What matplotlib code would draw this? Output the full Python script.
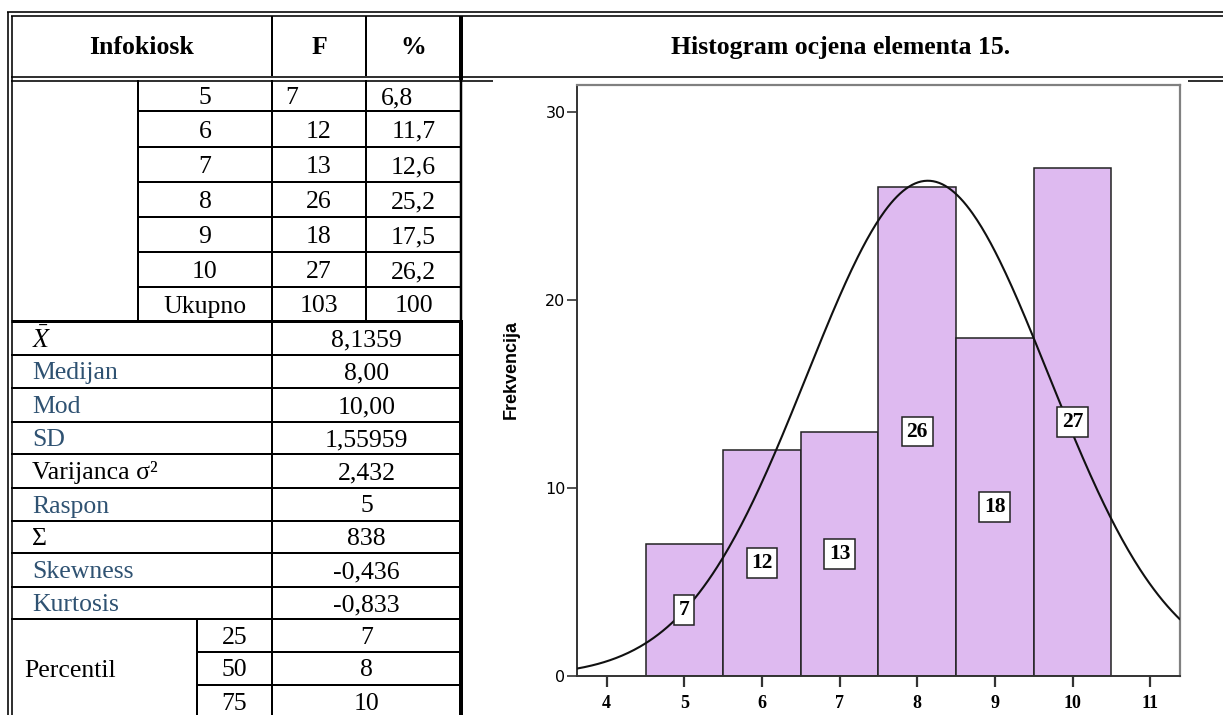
import numpy as np
import matplotlib
matplotlib.use("Agg")
import matplotlib.pyplot as plt

# ---------------- data ----------------
categories = [5, 6, 7, 8, 9, 10]
freqs = [7, 12, 13, 26, 18, 27]
percents = ["6,8", "11,7", "12,6", "25,2", "17,5", "26,2"]
total_label = "Ukupno"
total_f = "103"
total_pct = "100"
stat_labels = [r"$\bar{X}$", "Medijan", "Mod", "SD", "Varijanca σ²", "Raspon", "Σ", "Skewness", "Kurtosis"]
stat_values = ["8,1359", "8,00", "10,00", "1,55959", "2,432", "5", "838", "-0,436", "-0,833"]
stat_colored = [False, True, True, True, False, True, False, True, True]
pct_keys = ["25", "50", "75"]
pct_vals = ["7", "8", "10"]
x_ticks = [4, 5, 6, 7, 8, 9, 10, 11]
y_ticks = [0, 10, 20, 30]
mean_val = 8.1359
sd_val = 1.55959
header_cols = ["Infokiosk", "F", "%"]
chart_title = "Histogram ocjena elementa 15."
y_label = "Frekvencija"

plt.rcParams["mathtext.fontset"] = "stix"
SERIF = ["Liberation Serif", "DejaVu Serif"]
W, H = 1223, 715
fig = plt.figure(figsize=(W / 100, H / 100), dpi=100)
tab = fig.add_axes([0, 0, 1, 1])
tab.set_xlim(0, W)
tab.set_ylim(H, 0)
tab.axis("off")

def px(w):
    return w * 0.72

def hline(y, x0, x1, w=2.0):
    tab.plot([x0, x1], [y, y], color="black", lw=px(w), solid_capstyle="butt")

def vline(x, y0, y1, w=2.0):
    tab.plot([x, x], [y0, y1], color="black", lw=px(w), solid_capstyle="butt")

# outer double borders
vline(7.5, 11.5, H, 1.6)
vline(11.5, 16, H, 1.6)
hline(11.5, 7, W, 1.6)
hline(16, 11, W, 1.6)
# header bottom double line
hline(76.5, 11, W, 1.6)
hline(80.5, 11, 493, 1.6)
hline(80.5, 1188, W, 1.6)
# header dividers
vline(272, 16, 76, 2)
vline(366, 16, 76, 2)
# thick panel divider
vline(461, 16, 80, 4)
vline(460.5, 80, 320, 2.5)
vline(461, 320, H, 4)

# frequency block
row_y = [80, 111, 147, 182, 217, 252, 287, 321]
vline(138, 80, 321, 2)
vline(272, 80, H, 2)
vline(366, 80, 321, 2)
for y in row_y[1:-1]:
    hline(y, 138, 461, 2)
hline(321, 11, 461, 3)

# stats block
stat_y = [321, 355, 388, 422, 454, 488, 521, 553, 587, 619]
for y in stat_y[1:]:
    hline(y, 11, 461, 2)
perc_y = [619, 652, 685, 718]
vline(197, 619, H, 2)
hline(652, 197, 461, 2)
hline(685, 197, 461, 2)

FS = 18.5
tkw = dict(fontfamily=SERIF, fontsize=FS, va="center")
# header texts
tab.text(142, 47.5, header_cols[0], ha="center", fontweight="bold", **tkw)
tab.text(319, 47.5, header_cols[1], ha="center", fontweight="bold", **tkw)
tab.text(413.5, 47.5, header_cols[2], ha="center", fontweight="bold", **tkw)
tab.text(841, 47.5, chart_title, ha="center", fontweight="bold", **tkw)

# frequency rows
for i, (c, f, p) in enumerate(zip(categories, freqs, percents)):
    yc = (row_y[i] + row_y[i + 1]) / 2 + 2.5
    tab.text(205, yc, str(c), ha="center", **tkw)
    if i == 0:
        tab.text(285, yc, str(f), ha="left", **tkw)
        tab.text(381, yc, p, ha="left", **tkw)
    else:
        tab.text(319, yc, str(f), ha="center", **tkw)
        tab.text(413.5, yc, p, ha="center", **tkw)
yc = (row_y[-2] + row_y[-1]) / 2 + 2.5
tab.text(205, yc, total_label, ha="center", **tkw)
tab.text(319, yc, total_f, ha="center", **tkw)
tab.text(413.5, yc, total_pct, ha="center", **tkw)

# stats rows
for i, (lab, val, col) in enumerate(zip(stat_labels, stat_values, stat_colored)):
    yc = (stat_y[i] + stat_y[i + 1]) / 2 + 2
    tab.text(32, yc, lab, ha="left", color="#2F5272" if col else "black", **tkw)
    tab.text(366.5, yc, val, ha="center", **tkw)

tab.text(24, 671, "Percentil", ha="left", **tkw)
for i, (k, v) in enumerate(zip(pct_keys, pct_vals)):
    yc = (perc_y[i] + perc_y[i + 1]) / 2 + 2
    tab.text(234.5, yc, k, ha="center", **tkw)
    tab.text(366.5, yc, v, ha="center", **tkw)

# ---------------- histogram ----------------
x0p, x1p, y0p, y1p = 576.7, 1179.5, 676, 85
ax = fig.add_axes([x0p / W, 1 - y0p / H, (x1p - x0p) / W, (y0p - y1p) / H])
ax.set_xlim(3.613, 11.378)
ax.set_ylim(0, 31.44)
ax.bar(categories, freqs, width=1.0, color="#DEBAF0", edgecolor="#222222", linewidth=1.1, zorder=2)

n_total = sum(freqs)
xs = np.linspace(3.613, 11.378, 400)
ys = n_total * 1.0 / (sd_val * np.sqrt(2 * np.pi)) * np.exp(-0.5 * ((xs - mean_val) / sd_val) ** 2)
ax.plot(xs, ys, color="#111111", lw=1.5, zorder=3)

for c, f in zip(categories, freqs):
    ax.text(c, f / 2, str(f), ha="center", va="center", fontfamily=SERIF, fontweight="bold",
            fontsize=15.5, zorder=4,
            bbox=dict(boxstyle="square,pad=0.22", fc="white", ec="#222222", lw=1.1))

for side in ["top", "right"]:
    ax.spines[side].set_color("#808080")
    ax.spines[side].set_linewidth(1.6)
for side in ["left", "bottom"]:
    ax.spines[side].set_color("#333333")
    ax.spines[side].set_linewidth(1.4)

ax.set_xticks(x_ticks)
ax.set_xticklabels([str(t) for t in x_ticks], fontfamily=SERIF, fontweight="bold", fontsize=13)
ax.set_yticks(y_ticks)
ax.set_yticklabels([str(t) for t in y_ticks], fontfamily=["Liberation Sans Narrow", "DejaVu Sans"], fontsize=11.5)
ax.tick_params(axis="x", direction="out", length=8, width=1.6, color="#333333", pad=6)
ax.tick_params(axis="y", direction="out", length=7, width=1.2, color="#333333", pad=1)
ax.set_ylabel(y_label, fontfamily=["Liberation Sans", "DejaVu Sans"], fontweight="bold", fontsize=13)
ax.yaxis.set_label_coords(-0.094, 0.518)

fig.savefig("out.png", dpi=100)
